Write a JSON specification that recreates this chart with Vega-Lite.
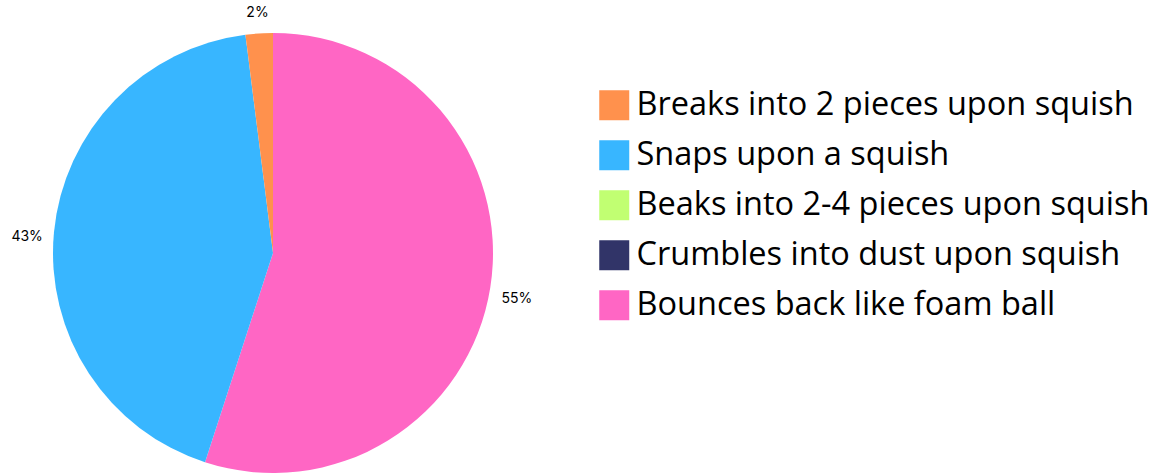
{
  "$schema": "https://vega.github.io/schema/vega-lite/v6.json",
  "width": 546,
  "height": 474,
  "autosize": "none",
  "padding": {"left": 0, "top": 16, "right": 628, "bottom": 0},
  "background": "white",
  "data": {
    "values": [
      {"category": "Bounces back like foam ball", "value": 55, "label": "55%", "ord": 1},
      {"category": "Snaps upon a squish", "value": 43, "label": "43%", "ord": 2},
      {"category": "Breaks into 2 pieces upon squish", "value": 2, "label": "2%", "ord": 3},
      {"category": "Beaks into 2-4 pieces upon squish", "value": 0, "label": "0%", "ord": 4},
      {"category": "Crumbles into dust upon squish", "value": 0, "label": "0%", "ord": 5}
    ]
  },
  "encoding": {
    "theta": {"field": "value", "type": "quantitative", "stack": true},
    "order": {"field": "ord", "type": "quantitative"}
  },
  "layer": [
    {
      "mark": {"type": "arc", "outerRadius": 220},
      "encoding": {
        "color": {
          "field": "category",
          "type": "nominal",
          "scale": {
            "domain": ["Breaks into 2 pieces upon squish", "Snaps upon a squish", "Beaks into 2-4 pieces upon squish", "Crumbles into dust upon squish", "Bounces back like foam ball"],
            "range": ["#FF914D", "#38B6FF", "#C1FF72", "#313468", "#FF66C4"]
          },
          "legend": {
            "title": null,
            "orient": "none",
            "legendX": 598,
            "legendY": 73,
            "symbolType": "square",
            "symbolSize": 900,
            "symbolStrokeWidth": 0,
            "symbolOpacity": 1,
            "labelFontSize": 32.5,
            "labelFont": "Open Sans",
            "labelColor": "#000000",
            "labelOffset": 6,
            "rowPadding": 17,
            "labelLimit": 800
          }
        }
      }
    },
    {
      "transform": [{"filter": "datum.value > 0"}],
      "mark": {"type": "text", "radius": 247, "dy": 7, "fontSize": 14, "font": "Inter", "color": "#000000"},
      "encoding": {
        "text": {"field": "label", "type": "nominal"},
        "detail": {"field": "category"}
      }
    }
  ]
}
